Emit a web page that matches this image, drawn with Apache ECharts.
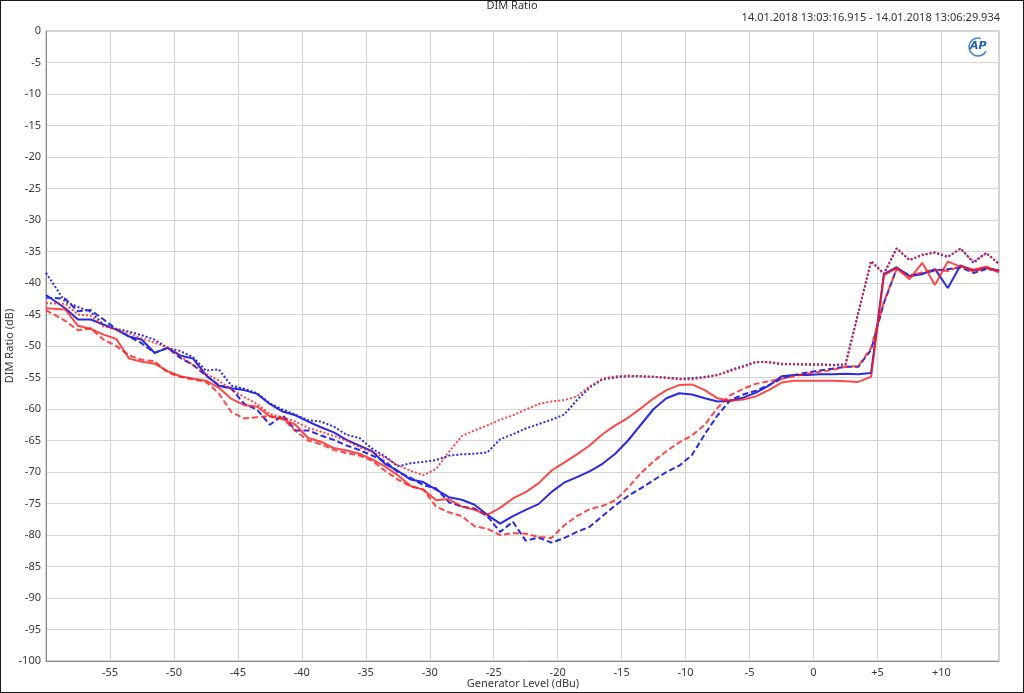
<!DOCTYPE html>
<html>
<head>
<meta charset="utf-8">
<script src="https://cdn.jsdelivr.net/npm/echarts@6/dist/echarts.min.js"></script>
<style>
html,body{margin:0;padding:0;background:#fff;}
#chart{position:absolute;left:0;top:0;width:1024px;height:693px;}
#frame{position:absolute;left:0;top:0;width:1024px;height:693px;box-sizing:border-box;border:1px solid #1a1a1a;pointer-events:none;}
</style>
</head>
<body>
<div id="chart"></div>
<div id="frame"></div>
<script>
const titleText = 'DIM Ratio';
const subtitleText = '14.01.2018 13:03:16.915 - 14.01.2018 13:06:29.934';
const xName = 'Generator Level (dBu)';
const yName = 'DIM Ratio (dB)';

const xLevels = [-60,-58.5,-57.5,-56.5,-55.5,-54.5,-53.5,-52.5,-51.5,-50.5,
-49.5,-48.5,-47.5,-46.5,-45.5,-44.5,-43.5,-42.5,-41.5,-40.5,
-39.5,-38.5,-37.5,-36.5,-35.5,-34.5,-33.5,-32.5,-31.5,-30.5,
-29.5,-28.5,-27.5,-26.5,-25.5,-24.5,-23.5,-22.5,-21.5,-20.5,
-19.5,-18.5,-17.5,-16.5,-15.5,-14.5,-13.5,-12.5,-11.5,-10.5,
-9.5,-8.5,-7.5,-6.5,-5.5,-4.5,-3.5,-2.5,-1.5,-0.5,
0.5,1.5,2.5,3.5,4.5,5.5,6.5,7.5,8.5,9.5,
10.5,11.5,12.5,13.5,14.5];

const blueSolid = [-41.9,-44,-45.8,-45.8,-46.6,-47.4,-48.5,-49,-51.1,-50.3,
-51.5,-52,-54.6,-56.3,-56.7,-57,-57.6,-59.2,-60.4,-61,
-62,-62.9,-63.7,-64.9,-65.8,-66.7,-68.7,-69.8,-71.2,-71.6,
-72.8,-74,-74.4,-75.2,-76.8,-78.2,-77,-76,-75.1,-73.2,
-71.7,-70.8,-69.9,-68.7,-67.1,-65,-62.5,-60,-58.3,-57.5,
-57.7,-58.3,-58.8,-58.7,-58.2,-57.4,-56.3,-54.8,-54.6,-54.6,
-54.5,-54.5,-54.4,-54.5,-54.3,-38.6,-37.5,-38.9,-38.6,-37.8,
-40.8,-37.2,-38,-37.6,-38];

const blueDashed = [-42.3,-42.5,-44.5,-44.3,-45.8,-47.3,-48.5,-49.6,-51.1,-50.3,
-51.9,-53,-54.7,-56.2,-56.8,-59.2,-60.1,-62.5,-61,-63.4,
-63.4,-64.2,-64.9,-65.8,-66.5,-67.4,-68.3,-70,-70.9,-72.1,
-72.6,-74.8,-75.5,-75.8,-77,-79.5,-77.9,-80.9,-80.4,-81.2,
-80.5,-79.5,-78.7,-77,-75.3,-73.8,-72.6,-71.3,-70,-69,
-67.3,-64,-61,-58.6,-57.7,-57.1,-56.2,-55.2,-54.6,-54.2,
-53.9,-53.6,-53.3,-53.3,-50.6,-43.2,-37.7,-38.8,-38.5,-38,
-37.8,-37.5,-38.4,-37.8,-38];

const blueDotted = [-38.4,-43,-43.8,-44.6,-46.6,-47.3,-47.7,-48.3,-49,-50.3,
-50.8,-51.8,-53.9,-53.7,-56.3,-56.8,-57.5,-59.1,-60.1,-60.9,
-61.8,-62,-62.8,-64.1,-64.6,-66.3,-67.5,-69.1,-68.6,-68.4,
-68.1,-67.4,-67.2,-67.1,-66.9,-64.8,-64,-63.1,-62.4,-61.7,
-60.9,-58.6,-56.6,-55.3,-55,-54.8,-54.8,-54.9,-55,-55.2,
-55.1,-54.9,-54.6,-53.8,-53.2,-52.5,-52.6,-52.9,-52.9,-52.9,
-52.9,-53,-52.9,-44.7,-36.5,-38.5,-34.5,-36.4,-35.5,-35.2,
-35.9,-34.5,-36.8,-35.2,-37];

const redSolid = [-44,-44.2,-46.8,-47.3,-48.2,-48.9,-52,-52.5,-52.8,-54,
-54.8,-55.2,-55.5,-56.6,-58.4,-59.4,-59.6,-61.2,-61.6,-62.5,
-64.6,-65.2,-66.2,-66.6,-67.1,-68,-69.1,-70.5,-72.2,-72.8,
-74.5,-74.3,-75.5,-76,-76.8,-75.7,-74.2,-73.2,-71.8,-69.8,
-68.5,-67.2,-65.8,-64,-62.6,-61.4,-59.9,-58.3,-57,-56.2,
-56.1,-57,-58.3,-58.7,-58.5,-58,-57,-55.8,-55.5,-55.5,
-55.5,-55.5,-55.6,-55.7,-54.9,-38.8,-37.6,-39.4,-36.8,-40.3,
-36.6,-37.4,-37.9,-37.4,-38.2];

const redDashed = [-44.3,-46,-47.5,-47.2,-49,-50,-51.5,-52.2,-52.4,-54.2,
-54.9,-55.3,-55.7,-57.5,-60.5,-61.5,-61.3,-61.1,-61.5,-63.5,
-65,-65.6,-66.5,-67,-67.4,-68.2,-69.8,-71.2,-72.3,-72.8,
-75.5,-76.4,-77,-78.6,-79,-80,-79.7,-79.8,-80.3,-80.5,
-78.5,-77,-75.9,-75.4,-74.5,-72.5,-70.2,-68.3,-66.7,-65.3,
-64.2,-62.5,-59.8,-57.8,-56.8,-56,-55.6,-55.2,-54.8,-54.4,
-54.1,-53.8,-53.3,-53.2,-50.3,-43,-37.8,-39,-38.3,-37.9,
-38.1,-37.3,-38.2,-37.6,-38.3];

const redDotted = [-43.2,-43.3,-45,-45.2,-46.9,-47.4,-48,-48.8,-49.5,-50.2,
-51.6,-53,-54.4,-55.5,-56.9,-58.1,-59.2,-60.8,-61.3,-62,
-63,-63.6,-64.3,-65,-66.1,-66.8,-67.7,-68.9,-69.8,-70.5,
-69.5,-66.8,-64.3,-63.4,-62.6,-61.7,-61,-60.1,-59.2,-58.8,
-58.6,-58,-56.4,-55.2,-54.8,-54.7,-54.8,-54.9,-55.1,-55.3,
-55.3,-55,-54.6,-54,-53.3,-52.6,-52.5,-52.8,-52.9,-53,
-53,-53.1,-53,-44.8,-36.6,-38.6,-34.5,-36.3,-35.6,-35.1,
-35.8,-34.6,-36.6,-35.3,-36.9];

const BLUE = '#2a2ae6';
const RED = '#ff1a1a';

function pairs(arr){ return xLevels.map((x,i)=>[x, arr[i]]); }
function mk(name, arr, color, type, opacity){
  return {
    name: name, type: 'line', data: pairs(arr), symbol: 'none', showSymbol: false,
    animation: false, z: 3,
    lineStyle: { color: color, width: 2, type: type, opacity: opacity, cap: 'butt' },
    emphasis: { disabled: true }
  };
}

const chart = echarts.init(document.getElementById('chart'), null, {renderer: 'canvas'});
const labelFont = { fontFamily: 'Noto Sans', fontSize: 11, color: '#3a3a3a' };

chart.setOption({
  animation: false,
  backgroundColor: '#ffffff',
  grid: { left: 46, right: 25, top: 31, bottom: 32, containLabel: false, outerBoundsMode: 'none',
    show: true, borderColor: '#a8a8a8', borderWidth: 1, backgroundColor: 'transparent' },
  xAxis: {
    type: 'value', min: -60, max: 14.5, interval: 5,
    axisLine: { show: true, onZero: false, lineStyle: { color: '#8c8c8c' } },
    axisTick: { show: false },
    splitLine: { show: true, lineStyle: { color: '#d6d6d6', width: 1 } },
    axisLabel: Object.assign({ margin: 6, showMinLabel: false, showMaxLabel: false,
      formatter: function(v){ if (v % 5 !== 0 || v <= -60) return ''; return v > 0 ? '+' + v : String(v); } }, labelFont)
  },
  yAxis: {
    type: 'value', min: -100, max: 0, interval: 5,
    axisLine: { show: true, onZero: false, lineStyle: { color: '#8c8c8c' } },
    axisTick: { show: false },
    splitLine: { show: true, lineStyle: { color: '#d6d6d6', width: 1 } },
    axisLabel: Object.assign({ margin: 5 }, labelFont)
  },
  graphic: [
    { type: 'text', left: 'center', top: 0, style: { text: titleText, font: '11px "Noto Sans"', fill: '#333' }, z: 10 },
    { type: 'text', right: 24, top: 12, style: { text: subtitleText, font: '11px "Noto Sans"', fill: '#333' }, z: 10 },
    { type: 'text', x: 523, y: 684, style: { text: xName, font: '11px "Noto Sans"', fill: '#3a3a3a', align: 'center', verticalAlign: 'middle' }, z: 10 },
    { type: 'text', x: 10, y: 346, rotation: Math.PI / 2, style: { text: yName, font: '11px "Noto Sans"', fill: '#3a3a3a', align: 'center', verticalAlign: 'middle' }, z: 10 },
    { type: 'arc', shape: { cx: 978, cy: 47, r: 9, startAngle: Math.PI * 0.15, endAngle: Math.PI * 1.6 },
      style: { stroke: '#4a86d4', lineWidth: 1.6, fill: null }, z: 10 },
    { type: 'text', x: 970, y: 41, style: { text: 'AP', font: 'italic bold 11px "DejaVu Sans"', fill: '#1f5fbf' }, z: 11 }
  ],
  series: [
    mk('Blue solid', blueSolid, BLUE, 'solid', 1),
    mk('Blue dashed', blueDashed, BLUE, [6, 3], 1),
    mk('Blue dotted', blueDotted, BLUE, [2, 2], 1),
    mk('Red solid', redSolid, RED, 'solid', 0.8),
    mk('Red dashed', redDashed, RED, [6, 3], 0.8),
    mk('Red dotted', redDotted, RED, [2, 2], 0.8)
  ]
});
</script>
</body>
</html>
